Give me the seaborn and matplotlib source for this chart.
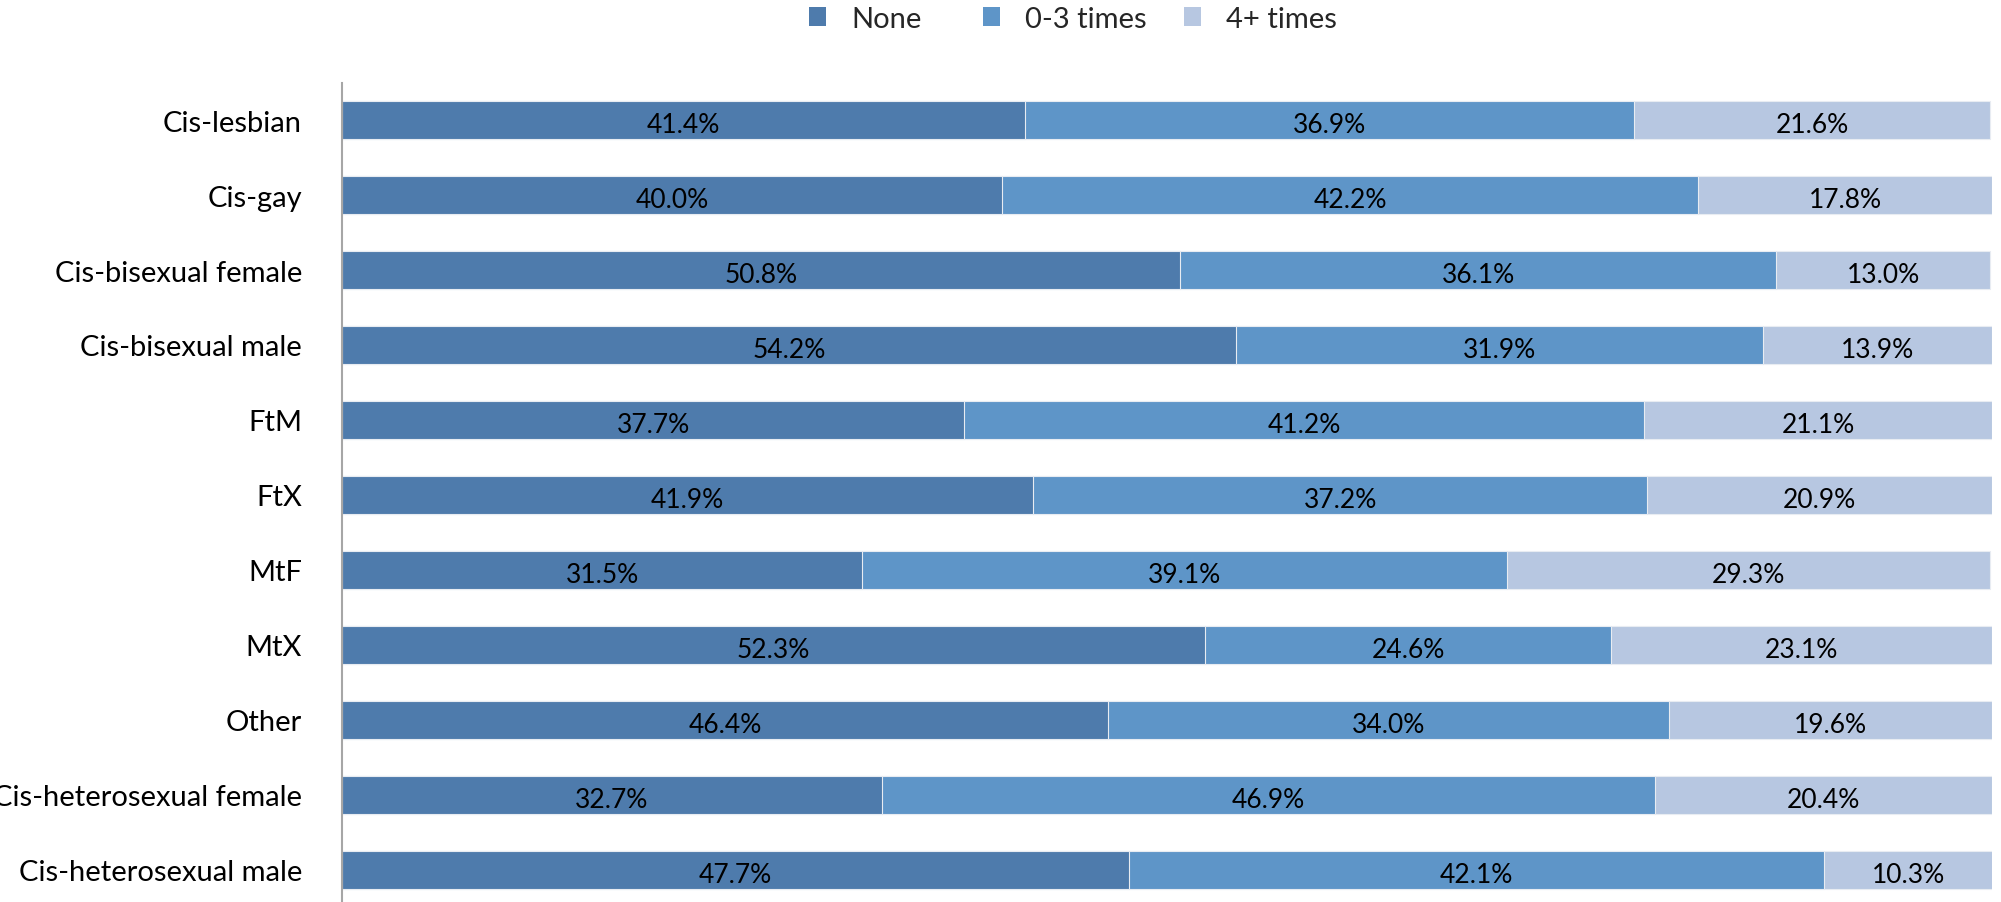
import matplotlib
matplotlib.use("Agg")
import matplotlib.pyplot as plt
from matplotlib.patches import Patch
import seaborn as sns
import pandas as pd
import numpy as np

groups = ["Cis-lesbian", "Cis-gay", "Cis-bisexual female", "Cis-bisexual male",
          "FtM", "FtX", "MtF", "MtX", "Other",
          "Cis-heterosexual female", "Cis-heterosexual male"]
none_pct = [41.4, 40.0, 50.8, 54.2, 37.7, 41.9, 31.5, 52.3, 46.4, 32.7, 47.7]
few_pct = [36.9, 42.2, 36.1, 31.9, 41.2, 37.2, 39.1, 24.6, 34.0, 46.9, 42.1]
many_pct = [21.6, 17.8, 13.0, 13.9, 21.1, 20.9, 29.3, 23.1, 19.6, 20.4, 10.3]
series_names = ["None", "0-3 times", "4+ times"]
colors = ["#4E7BAC", "#5E95C8", "#B7C7E1"]

sns.set_theme(style="white")
plt.rcParams["font.family"] = ["Lato", "DejaVu Sans"]

df = pd.DataFrame({"group": groups, "None": none_pct,
                   "0-3 times": few_pct, "4+ times": many_pct})
df["c1"] = df["None"]
df["c2"] = df["None"] + df["0-3 times"]
df["c3"] = df["c2"] + df["4+ times"]

fig = plt.figure(figsize=(20.01, 9.03), dpi=100)
ax = fig.add_axes([0.171, -0.006, 0.8245, 0.9135])

# stacked bars drawn as overlapping cumulative totals
for col, c in zip(["c3", "c2", "c1"], colors[::-1]):
    sns.barplot(data=df, y="group", x=col, orient="h", color=c, width=0.5,
                edgecolor="#E8ECF2", linewidth=0.8, saturation=1, ax=ax)

# segment labels
starts = np.zeros(len(groups))
for vals in [none_pct, few_pct, many_pct]:
    vals = np.array(vals)
    for i, (s, v) in enumerate(zip(starts, vals)):
        ax.text(s + v / 2, i + 0.03, f"{v:.1f}%", ha="center",
                va="center_baseline", fontsize=19, color="black")
    starts = starts + vals

ax.set_xlim(0, 100)
ax.set_ylim(len(groups) - 0.5, -0.5)
ax.set_xlabel("")
ax.set_ylabel("")
ax.set_xticks([])
ax.tick_params(axis="y", length=0, labelsize=21, colors="black", pad=29)
for lbl in ax.get_yticklabels():
    lbl.set_verticalalignment("center_baseline")
for side in ["top", "right", "bottom"]:
    ax.spines[side].set_visible(False)
ax.spines["left"].set_color("#A6A6A6")
ax.spines["left"].set_linewidth(1.5)

# legend entries positioned individually along the top
legend_x = [809, 983, 1184]
for name, c, x in zip(series_names, colors, legend_x):
    fig.legend([Patch(facecolor=c, edgecolor="none")], [name],
               loc="center left", bbox_to_anchor=(x / 2001, 1 - 20 / 903),
               frameon=False, fontsize=21, handlelength=0.58,
               handleheight=0.6, handletextpad=0.86, borderpad=0,
               borderaxespad=0)

fig.savefig("out.png", dpi=100)
